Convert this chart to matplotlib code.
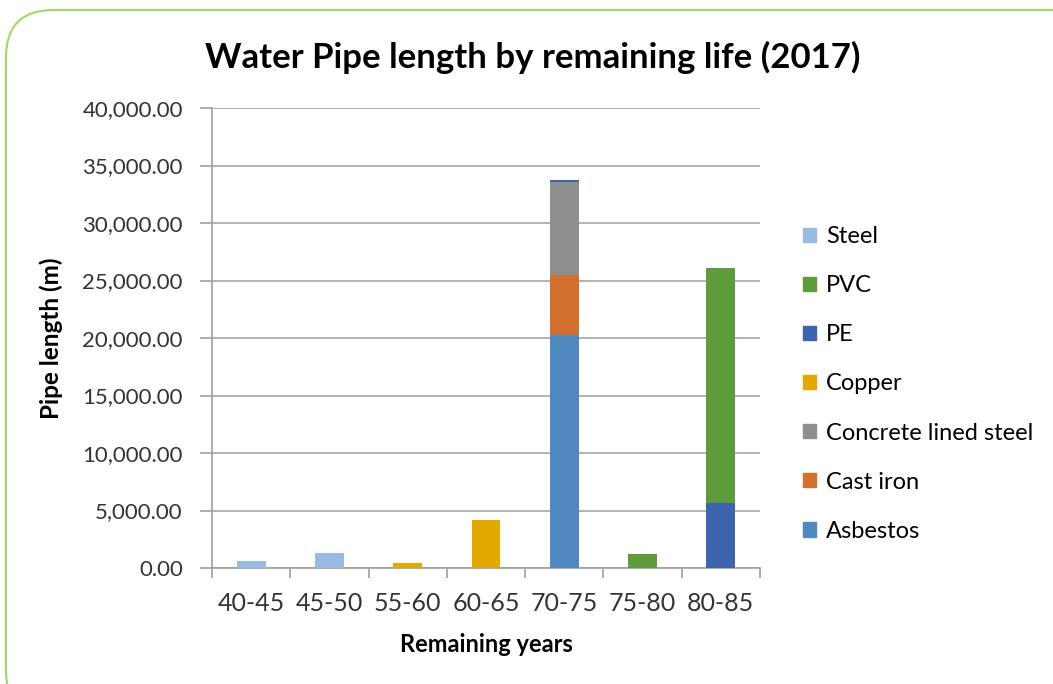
import numpy as np
import matplotlib.pyplot as plt
from matplotlib.patches import FancyBboxPatch, Patch

plt.rcParams['font.family'] = ['Lato', 'DejaVu Sans']

categories = ["40-45", "45-50", "55-60", "60-65", "70-75", "75-80", "80-85"]

# stacked from the bottom up
asbestos = [0, 0, 0, 0, 20300, 0, 0]
cast_iron = [0, 0, 0, 0, 5200, 0, 0]
concrete = [0, 0, 0, 0, 8050, 0, 0]
copper = [0, 0, 400, 4150, 0, 0, 0]
pe = [0, 0, 0, 0, 150, 0, 5650]
pvc = [0, 0, 0, 0, 0, 1200, 20400]
steel = [600, 1300, 0, 0, 0, 0, 0]

series = [
    ("Asbestos", asbestos, "#5089c0"),
    ("Cast iron", cast_iron, "#d4702d"),
    ("Concrete lined steel", concrete, "#8f8f8f"),
    ("Copper", copper, "#e2aa00"),
    ("PE", pe, "#3d64ad"),
    ("PVC", pvc, "#5f9a3d"),
    ("Steel", steel, "#99bbe1"),
]

fig = plt.figure(figsize=(10.53, 6.84), dpi=100)
border = FancyBboxPatch((6 / 1053, -0.05), 1.1, 1.05 - 10 / 684,
                        boxstyle="round,pad=0,rounding_size=0.045",
                        transform=fig.transFigure, facecolor="none",
                        edgecolor="#9fd867", linewidth=1.5, mutation_aspect=1053 / 684)
fig.patches.append(border)

ax = fig.add_axes([212 / 1053, 1 - 568 / 684, 548 / 1053, 460 / 684])
ax.set_facecolor("none")

x = np.arange(len(categories))
bottom = np.zeros(len(categories))
for name, vals, col in series:
    vals = np.array(vals, dtype=float)
    ax.bar(x, vals, width=0.37, bottom=bottom, color=col, label=name, zorder=3)
    bottom += vals

ax.set_xlim(-0.5, len(categories) - 0.5)
ax.set_ylim(0, 40000)
ax.set_yticks(np.arange(0, 40001, 5000))
ax.set_yticklabels([f"{v:,.2f}" for v in np.arange(0, 40001, 5000)], fontsize=16, color="#333333")
ax.set_xticks(x)
ax.set_xticklabels(categories, fontsize=18, color="#333333")
ax.set_xticks(np.arange(-0.5, len(categories)), minor=True)
ax.tick_params(axis="x", which="major", length=0, pad=17)
ax.tick_params(axis="x", which="minor", length=7, color="#a0a0a0", width=1.2)
ax.tick_params(axis="y", length=9, color="#a0a0a0", width=1.2, pad=12)
ax.grid(axis="y", color="#a6a6a6", linewidth=1.2, zorder=0)
for s in ["top", "right"]:
    ax.spines[s].set_visible(False)
for s in ["left", "bottom"]:
    ax.spines[s].set_color("#a0a0a0")
    ax.spines[s].set_linewidth(1.2)

ax.set_xlabel("Remaining years", fontsize=17, fontweight="bold", labelpad=13)
ax.set_ylabel("Pipe length (m)", fontsize=17.5, fontweight="bold")
ax.yaxis.set_label_coords(-0.272, 0.5)
fig.text(533 / 1053, 1 - 57 / 684, "Water Pipe length by remaining life (2017)",
         fontsize=25, fontweight="bold", ha="center", va="center")

handles = [Patch(color=col, label=name) for name, _, col in reversed(series)]
ax.legend(handles=handles, loc="center left", bbox_to_anchor=(1.04, 0.40),
          frameon=False, fontsize=17, labelspacing=1.19, handlelength=0.55,
          handleheight=0.55, handletextpad=0.42)

fig.savefig("out.png", dpi=100)
